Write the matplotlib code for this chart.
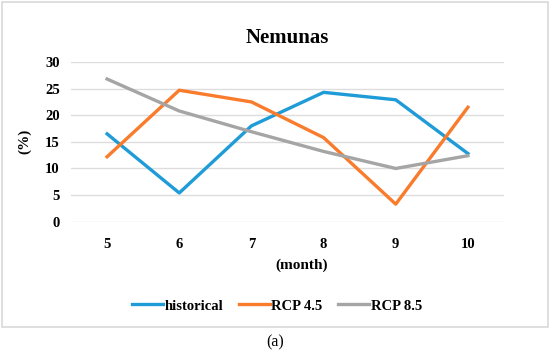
import matplotlib.pyplot as plt
from matplotlib.patches import Rectangle

# --- data ---
months = [5, 6, 7, 8, 9, 10]
historical = [16.5, 5.4, 18.0, 24.3, 22.9, 12.8]
rcp45 = [12.2, 24.7, 22.5, 15.8, 3.3, 21.5]
rcp85 = [26.8, 20.8, 16.9, 13.2, 10.0, 12.4]
y_ticks = [0, 5, 10, 15, 20, 25, 30]

plt.rcParams['font.family'] = ['Liberation Serif', 'DejaVu Serif']

fig = plt.figure(figsize=(5.5, 3.55), dpi=100)
ax = fig.add_axes([71 / 550, 133.3 / 355, 433 / 550, 159.7 / 355])

ax.plot(months, historical, color='#1F9BD7', lw=2.4, label='historical')
ax.plot(months, rcp45, color='#F97B2C', lw=2.4, label='RCP 4.5')
ax.plot(months, rcp85, color='#A5A5A5', lw=2.4, label='RCP 8.5')

ax.set_xlim(4.5, 10.5)
ax.set_ylim(0, 30)
ax.set_yticks(y_ticks)
ax.set_xticks(months)
ax.grid(axis='y', color='#DDDDDD', lw=1)
ax.set_axisbelow(True)
for s in ax.spines.values():
    s.set_visible(False)
ax.tick_params(length=0, labelsize=10.5, pad=8)
for lab in ax.get_xticklabels() + ax.get_yticklabels():
    lab.set_fontweight('bold')
ax.tick_params(axis='x', pad=12)

ax.set_ylabel('(%)', fontsize=11, fontweight='bold', labelpad=10)
fig.text(302 / 550, 1 - 265 / 355, '(month)', ha='center', va='center',
         fontsize=11, fontweight='bold')
fig.text(287 / 550, 1 - 38 / 355, 'Nemunas', ha='center', va='center',
         fontsize=15, fontweight='bold')

ax.legend(loc='center', bbox_to_anchor=(277 / 550, 1 - 306 / 355),
          bbox_transform=fig.transFigure, ncol=3, frameon=False,
          prop={'size': 10.5, 'weight': 'bold'}, handlelength=2.1,
          handletextpad=0.1, columnspacing=1.1)

# light frame around the chart
fig.patches.append(Rectangle((2 / 550, 1 - 327 / 355), 546 / 550, 325 / 355,
                             transform=fig.transFigure, fill=False,
                             edgecolor='#D9D9D9', lw=1.2))
fig.text(275 / 550, 1 - 342 / 355, '(a)', ha='center', va='center', fontsize=11.5)

fig.savefig('out.png', dpi=100)
